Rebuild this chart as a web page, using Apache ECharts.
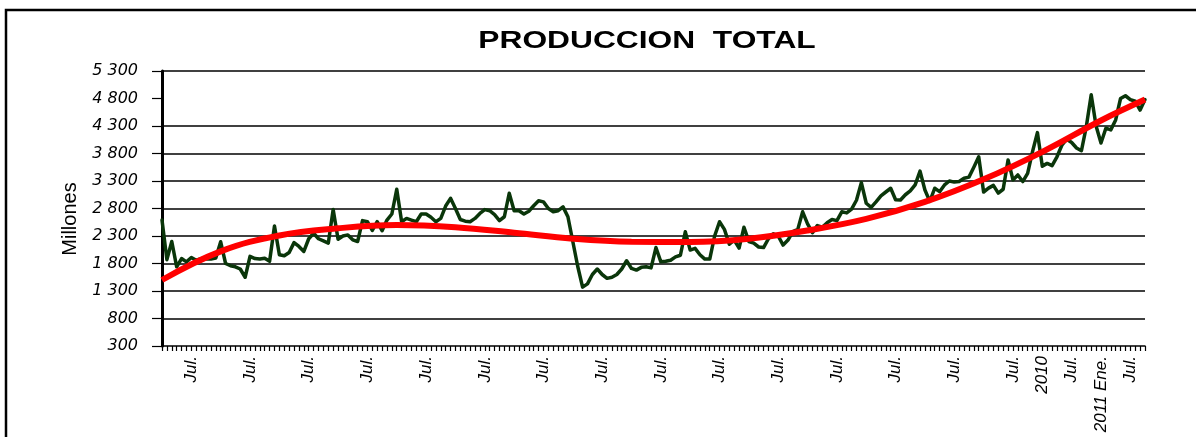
<!DOCTYPE html>
<html>
<head>
<meta charset="utf-8">
<title>Produccion total</title>
<script src="https://cdn.jsdelivr.net/npm/echarts@6/dist/echarts.min.js"></script>
<style>
  html, body { margin: 0; padding: 0; background: #fff; }
  #chart { width: 1196px; height: 437px; }
</style>
</head>
<body>
<div id="chart"></div>
<script>
// monthly series, Jan 1995 .. Oct 2011 (millones)
const startYear = 1995;
const produccion = [
  2590, 1870, 2200, 1740, 1890, 1830, 1910, 1860, 1890, 1880, 1880, 1900,
  2195, 1800, 1760, 1740, 1700, 1550, 1930, 1890, 1880, 1895, 1840, 2480,
  1960, 1940, 2000, 2180, 2110, 2020, 2250, 2350, 2250, 2210, 2170, 2780,
  2240, 2300, 2320, 2230, 2200, 2580, 2560, 2400, 2560, 2395, 2590, 2700,
  3150, 2560, 2620, 2590, 2560, 2700, 2700, 2640, 2560, 2620, 2845, 2985,
  2800, 2600, 2570, 2560, 2620, 2710, 2780, 2760, 2690, 2580, 2650, 3077,
  2760, 2760, 2700, 2750, 2850, 2940, 2920, 2800, 2740, 2760, 2830, 2650,
  2200, 1750, 1370, 1430, 1600, 1700, 1600, 1530, 1550, 1600, 1700, 1850,
  1710, 1680, 1730, 1740, 1720, 2090, 1830, 1840, 1860, 1920, 1950, 2377,
  2044, 2075, 1960, 1880, 1880, 2300, 2560, 2420, 2150, 2226, 2080, 2460,
  2200, 2170, 2100, 2090, 2250, 2340, 2300, 2135, 2226, 2380, 2420, 2740,
  2520, 2360, 2490, 2460, 2540, 2600, 2580, 2740, 2720, 2790, 2950, 3270,
  2895, 2820, 2920, 3030, 3100, 3168, 2960, 2955, 3050, 3120, 3230, 3480,
  3137, 2930, 3168, 3106, 3228, 3300, 3280, 3290, 3350, 3370, 3550, 3740,
  3100, 3170, 3220, 3080, 3150, 3683, 3320, 3410, 3290, 3440, 3835, 4180,
  3570, 3620, 3580, 3740, 3950, 4060, 4000, 3900, 3850, 4290, 4870, 4300,
  3990, 4260, 4230, 4410, 4800, 4850, 4780, 4750, 4590, 4780
];

// trend line read at yearly points (month index from Jan 1995)
const trendMonths = [0, 12, 24, 36, 48, 60, 72, 84, 96, 108, 120, 132, 144, 156, 168, 180, 192, 201];
const trendValues = [1500, 2020, 2310, 2440, 2500, 2460, 2360, 2250, 2195, 2190, 2250, 2400, 2610, 2920, 3330, 3830, 4400, 4780];

const yMin = 300;
const yMax = 5300;
const yStep = 500;
// horizontal rules drawn in the original (no rule at 4 800)
const gridValues = [800, 1300, 1800, 2300, 2800, 3300, 3800, 4300, 5300];
const julLabel = 'Jul.';
const specialLabels = { '2010-01': '2010', '2011-01': '2011 Ene.' };

const months = produccion.map((_, i) => {
  const y = startYear + Math.floor(i / 12);
  const m = (i % 12) + 1;
  return y + '-' + String(m).padStart(2, '0');
});

const formatThousands = (v) => {
  const s = String(v);
  return s.length > 3 ? s.slice(0, -3) + ' ' + s.slice(-3) : s;
};

const chart = echarts.init(document.getElementById('chart'));

const option = {
  animation: false,
  backgroundColor: '#fff',
  grid: { left: 162, right: 51, top: 71, bottom: 91 },
  graphic: [
    {
      type: 'polyline',
      shape: { points: [[6, 437], [6, 10], [1196, 10]] },
      style: { stroke: '#000', lineWidth: 2.5, fill: null }
    },
    {
      type: 'text',
      x: 647,
      y: 42,
      scaleX: 1.38,
      style: {
        text: 'PRODUCCION  TOTAL',
        x: 0,
        y: 0,
        align: 'center',
        verticalAlign: 'middle',
        font: 'bold 23px "Liberation Sans", Arial, sans-serif',
        fill: '#000'
      }
    }
  ],
  xAxis: {
    type: 'category',
    data: months,
    boundaryGap: false,
    axisLine: { lineStyle: { color: '#000', width: 1.5 } },
    axisTick: { interval: 0, length: 5, lineStyle: { color: '#000', width: 1.2 } },
    axisLabel: {
      interval: 0,
      rotate: 90,
      margin: 10,
      color: '#000',
      fontFamily: '"Liberation Sans", Arial, sans-serif',
      fontStyle: 'italic',
      fontSize: 17,
      formatter: (v) => specialLabels[v] || (v.endsWith('-07') ? julLabel : '')
    },
    splitLine: { show: false }
  },
  yAxis: {
    type: 'value',
    min: yMin,
    max: yMax,
    interval: yStep,
    name: 'Millones',
    nameLocation: 'middle',
    nameRotate: 90,
    nameGap: 82,
    nameTextStyle: {
      color: '#000',
      fontFamily: '"Liberation Sans", Arial, sans-serif',
      fontSize: 20,
      padding: [0, 21, 0, 0]
    },
    axisLine: { show: true, lineStyle: { color: '#000', width: 3 } },
    axisTick: { show: true, length: 10, lineStyle: { color: '#000', width: 1.2 } },
    axisLabel: {
      margin: 24,
      color: '#000',
      fontFamily: '"DejaVu Sans", sans-serif',
      fontStyle: 'italic',
      fontSize: 16,
      formatter: formatThousands
    },
    splitLine: { show: false }
  },
  series: [
    {
      name: 'Produccion',
      type: 'line',
      data: produccion,
      symbol: 'none',
      clip: false,
      lineStyle: { color: '#0a360a', width: 3.5, join: 'round', cap: 'round' },
      markLine: {
        silent: true,
        symbol: 'none',
        z: 1,
        label: { show: false },
        lineStyle: { color: '#000', width: 1.5, type: 'solid' },
        data: gridValues.map((v) => ({ yAxis: v }))
      }
    },
    {
      name: 'Tendencia',
      type: 'line',
      data: trendMonths.map((m, k) => [m, trendValues[k]]),
      symbol: 'none',
      smooth: 0.4,
      lineStyle: { color: '#ff0000', width: 6 }
    }
  ]
};

chart.setOption(option);
</script>
</body>
</html>
